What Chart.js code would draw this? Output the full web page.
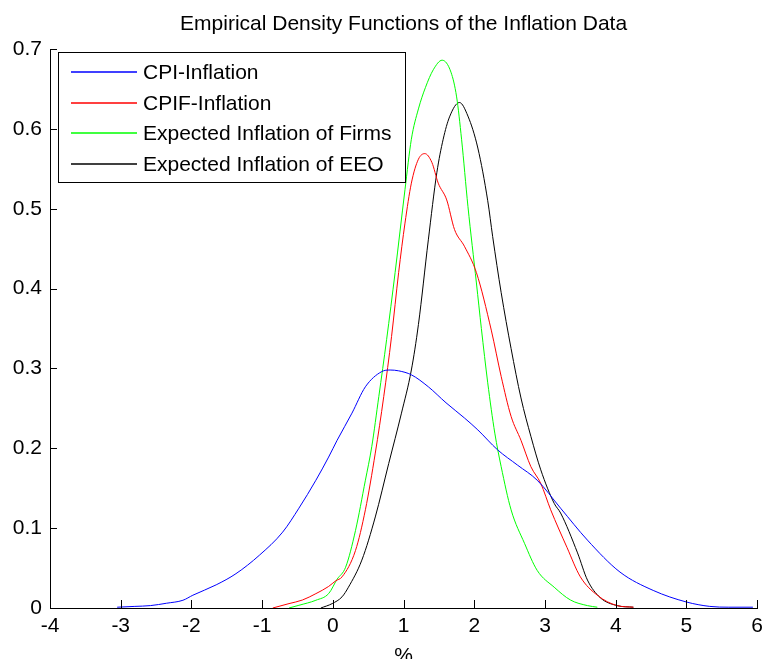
<!DOCTYPE html>
<html>
<head>
<meta charset="utf-8">
<script src="https://cdn.jsdelivr.net/npm/chart.js@4/dist/chart.umd.min.js"></script>
<style>
  html, body { margin: 0; padding: 0; background: #fff; }
  #wrap { width: 769px; height: 659px; position: relative; }
</style>
</head>
<body>
<div id="wrap"><canvas id="c" width="769" height="659"></canvas></div>
<script>
const chartTitle = "Empirical Density Functions of the Inflation Data";
const xAxisLabel = "%";
const seriesNames = ["CPI-Inflation", "CPIF-Inflation", "Expected Inflation of Firms", "Expected Inflation of EEO"];
const seriesColors = ["#0000ff", "#ff0000", "#00ff00", "#000000"];
const xTickValues = [-4, -3, -2, -1, 0, 1, 2, 3, 4, 5, 6];
const yTickValues = [0, 0.1, 0.2, 0.3, 0.4, 0.5, 0.6, 0.7];

const cpiX = [-3.05, -2.8, -2.58, -2.35, -2.12, -1.98, -1.65, -1.37, -1.04, -0.71, -0.48, -0.24, -0.06, 0.06, 0.27, 0.46, 0.69, 0.81, 0.93, 1.11, 1.35, 1.6, 1.86, 2.05, 2.33, 2.61, 2.89, 3.22, 3.6, 4.06, 4.53, 5.0, 5.33, 5.6, 5.94];
const cpiY = [0.001, 0.002, 0.003, 0.006, 0.0097, 0.016, 0.029, 0.043, 0.066, 0.095, 0.125, 0.160, 0.189, 0.210, 0.244, 0.277, 0.296, 0.298, 0.297, 0.292, 0.277, 0.257, 0.238, 0.223, 0.198, 0.179, 0.160, 0.125, 0.085, 0.045, 0.022, 0.0075, 0.002, 0.001, 0.001];

const cpifX = [-0.85, -0.62, -0.43, -0.24, -0.06, 0.04, 0.13, 0.32, 0.46, 0.60, 0.72, 0.83, 0.93, 1.02, 1.11, 1.21, 1.30, 1.40, 1.49, 1.61, 1.72, 1.86, 2.03, 2.24, 2.38, 2.52, 2.66, 2.80, 2.94, 3.08, 3.31, 3.50, 3.74, 4.02, 4.25];
const cpifY = [0, 0.0055, 0.010, 0.018, 0.027, 0.034, 0.039, 0.072, 0.123, 0.194, 0.265, 0.34, 0.42, 0.482, 0.532, 0.562, 0.569, 0.558, 0.532, 0.511, 0.474, 0.453, 0.42, 0.348, 0.29, 0.24, 0.21, 0.177, 0.156, 0.123, 0.076, 0.039, 0.016, 0.003, 0.001];

const firmsX = [-0.62, -0.48, -0.24, -0.06, 0.06, 0.18, 0.32, 0.46, 0.55, 0.65, 0.76, 0.88, 1.02, 1.11, 1.21, 1.31, 1.42, 1.545, 1.67, 1.75, 1.82, 1.91, 2.03, 2.10, 2.19, 2.29, 2.38, 2.52, 2.71, 2.89, 3.13, 3.36, 3.6, 3.74];
const firmsY = [0, 0.0034, 0.0097, 0.018, 0.036, 0.051, 0.097, 0.160, 0.202, 0.265, 0.336, 0.42, 0.524, 0.587, 0.625, 0.652, 0.674, 0.686, 0.671, 0.64, 0.587, 0.503, 0.407, 0.35, 0.282, 0.219, 0.177, 0.123, 0.081, 0.047, 0.026, 0.010, 0.003, 0.001];

const eeoX = [-0.17, -0.01, 0.13, 0.22, 0.41, 0.60, 0.79, 0.97, 1.11, 1.21, 1.35, 1.47, 1.56, 1.65, 1.79, 1.91, 2.05, 2.19, 2.26, 2.38, 2.52, 2.66, 2.80, 2.94, 3.13, 3.22, 3.46, 3.60, 3.78, 4.02, 4.25];
const eeoY = [0, 0.0055, 0.014, 0.026, 0.060, 0.114, 0.181, 0.244, 0.298, 0.355, 0.461, 0.545, 0.587, 0.615, 0.633, 0.616, 0.576, 0.51, 0.465, 0.395, 0.325, 0.263, 0.215, 0.173, 0.131, 0.119, 0.069, 0.035, 0.013, 0.003, 0.001];

const allX = [cpiX, cpifX, firmsX, eeoX];
const allY = [cpiY, cpifY, firmsY, eeoY];

const FONT = "'Liberation Sans', Arial, sans-serif";
const FSIZE = 21;

const datasets = seriesNames.map((name, i) => ({
  label: name,
  data: allX[i].map((x, k) => ({ x: x, y: allY[i][k] })),
  borderColor: seriesColors[i],
  backgroundColor: seriesColors[i],
  borderWidth: 1,
  pointRadius: 0,
  showLine: true,
  fill: false,
  cubicInterpolationMode: 'monotone'
}));

const decorations = {
  id: 'decorations',
  afterDraw(chart) {
    const ctx = chart.ctx;
    const xs = chart.scales.x, ys = chart.scales.y;
    const a = chart.chartArea;
    ctx.save();
    ctx.strokeStyle = '#000';
    ctx.lineWidth = 1;
    ctx.beginPath();
    xTickValues.forEach(v => {
      const px = Math.round(xs.getPixelForValue(v)) + 0.5;
      ctx.moveTo(px, a.bottom);
      ctx.lineTo(px, a.bottom - 8);
    });
    yTickValues.forEach(v => {
      const py = Math.round(ys.getPixelForValue(v)) + 0.5;
      ctx.moveTo(a.left, py);
      ctx.lineTo(a.left + 7, py);
    });
    ctx.stroke();

    // title
    ctx.fillStyle = '#000';
    ctx.font = FSIZE + 'px ' + FONT;
    ctx.textAlign = 'center';
    ctx.textBaseline = 'middle';
    ctx.fillText(chartTitle, (a.left + a.right) / 2, 24);

    // legend box
    const bx = 58.5, by = 52.5, bw = 347, bh = 130;
    ctx.fillStyle = '#fff';
    ctx.fillRect(bx, by, bw, bh);
    ctx.strokeStyle = '#000';
    ctx.lineWidth = 1;
    ctx.strokeRect(bx, by, bw, bh);
    ctx.textAlign = 'left';
    seriesNames.forEach((name, i) => {
      const y = Math.round(72 + i * 30.5);
      ctx.beginPath();
      ctx.strokeStyle = seriesColors[i];
      ctx.lineWidth = 1.6;
      ctx.moveTo(71, y);
      ctx.lineTo(137, y);
      ctx.stroke();
      ctx.fillStyle = '#000';
      ctx.fillText(name, 143, y + 1);
    });
    ctx.restore();
  }
};

new Chart(document.getElementById('c'), {
  type: 'scatter',
  data: { datasets: datasets },
  options: {
    responsive: false,
    animation: false,
    events: [],
    layout: { padding: { left: 0, right: 7, top: 49, bottom: 0 } },
    plugins: {
      legend: { display: false },
      tooltip: { enabled: false },
      title: { display: false }
    },
    scales: {
      x: {
        type: 'linear',
        min: -4, max: 6,
        afterFit(s) { s.height = 51; },
        afterBuildTicks(s) { s.ticks = xTickValues.map(v => ({ value: v })); },
        grid: { display: false, drawTicks: false },
        border: { display: true, color: '#000', width: 1 },
        ticks: {
          color: '#000',
          padding: 6,
          font: { family: FONT, size: FSIZE },
          maxRotation: 0,
          callback: v => String(v)
        },
        title: {
          display: true,
          text: xAxisLabel,
          color: '#000',
          font: { family: FONT, size: FSIZE, lineHeight: 1 },
          padding: { top: 0, bottom: -8 }
        }
      },
      y: {
        type: 'linear',
        min: 0, max: 0.7,
        afterFit(s) { s.width = 50; },
        afterBuildTicks(s) { s.ticks = yTickValues.map(v => ({ value: v })); },
        grid: { display: false, drawTicks: false },
        border: { display: true, color: '#000', width: 1 },
        ticks: {
          color: '#000',
          padding: 8,
          font: { family: FONT, size: FSIZE },
          callback: v => String(+v.toFixed(1))
        }
      }
    }
  },
  plugins: [decorations]
});
</script>
</body>
</html>
